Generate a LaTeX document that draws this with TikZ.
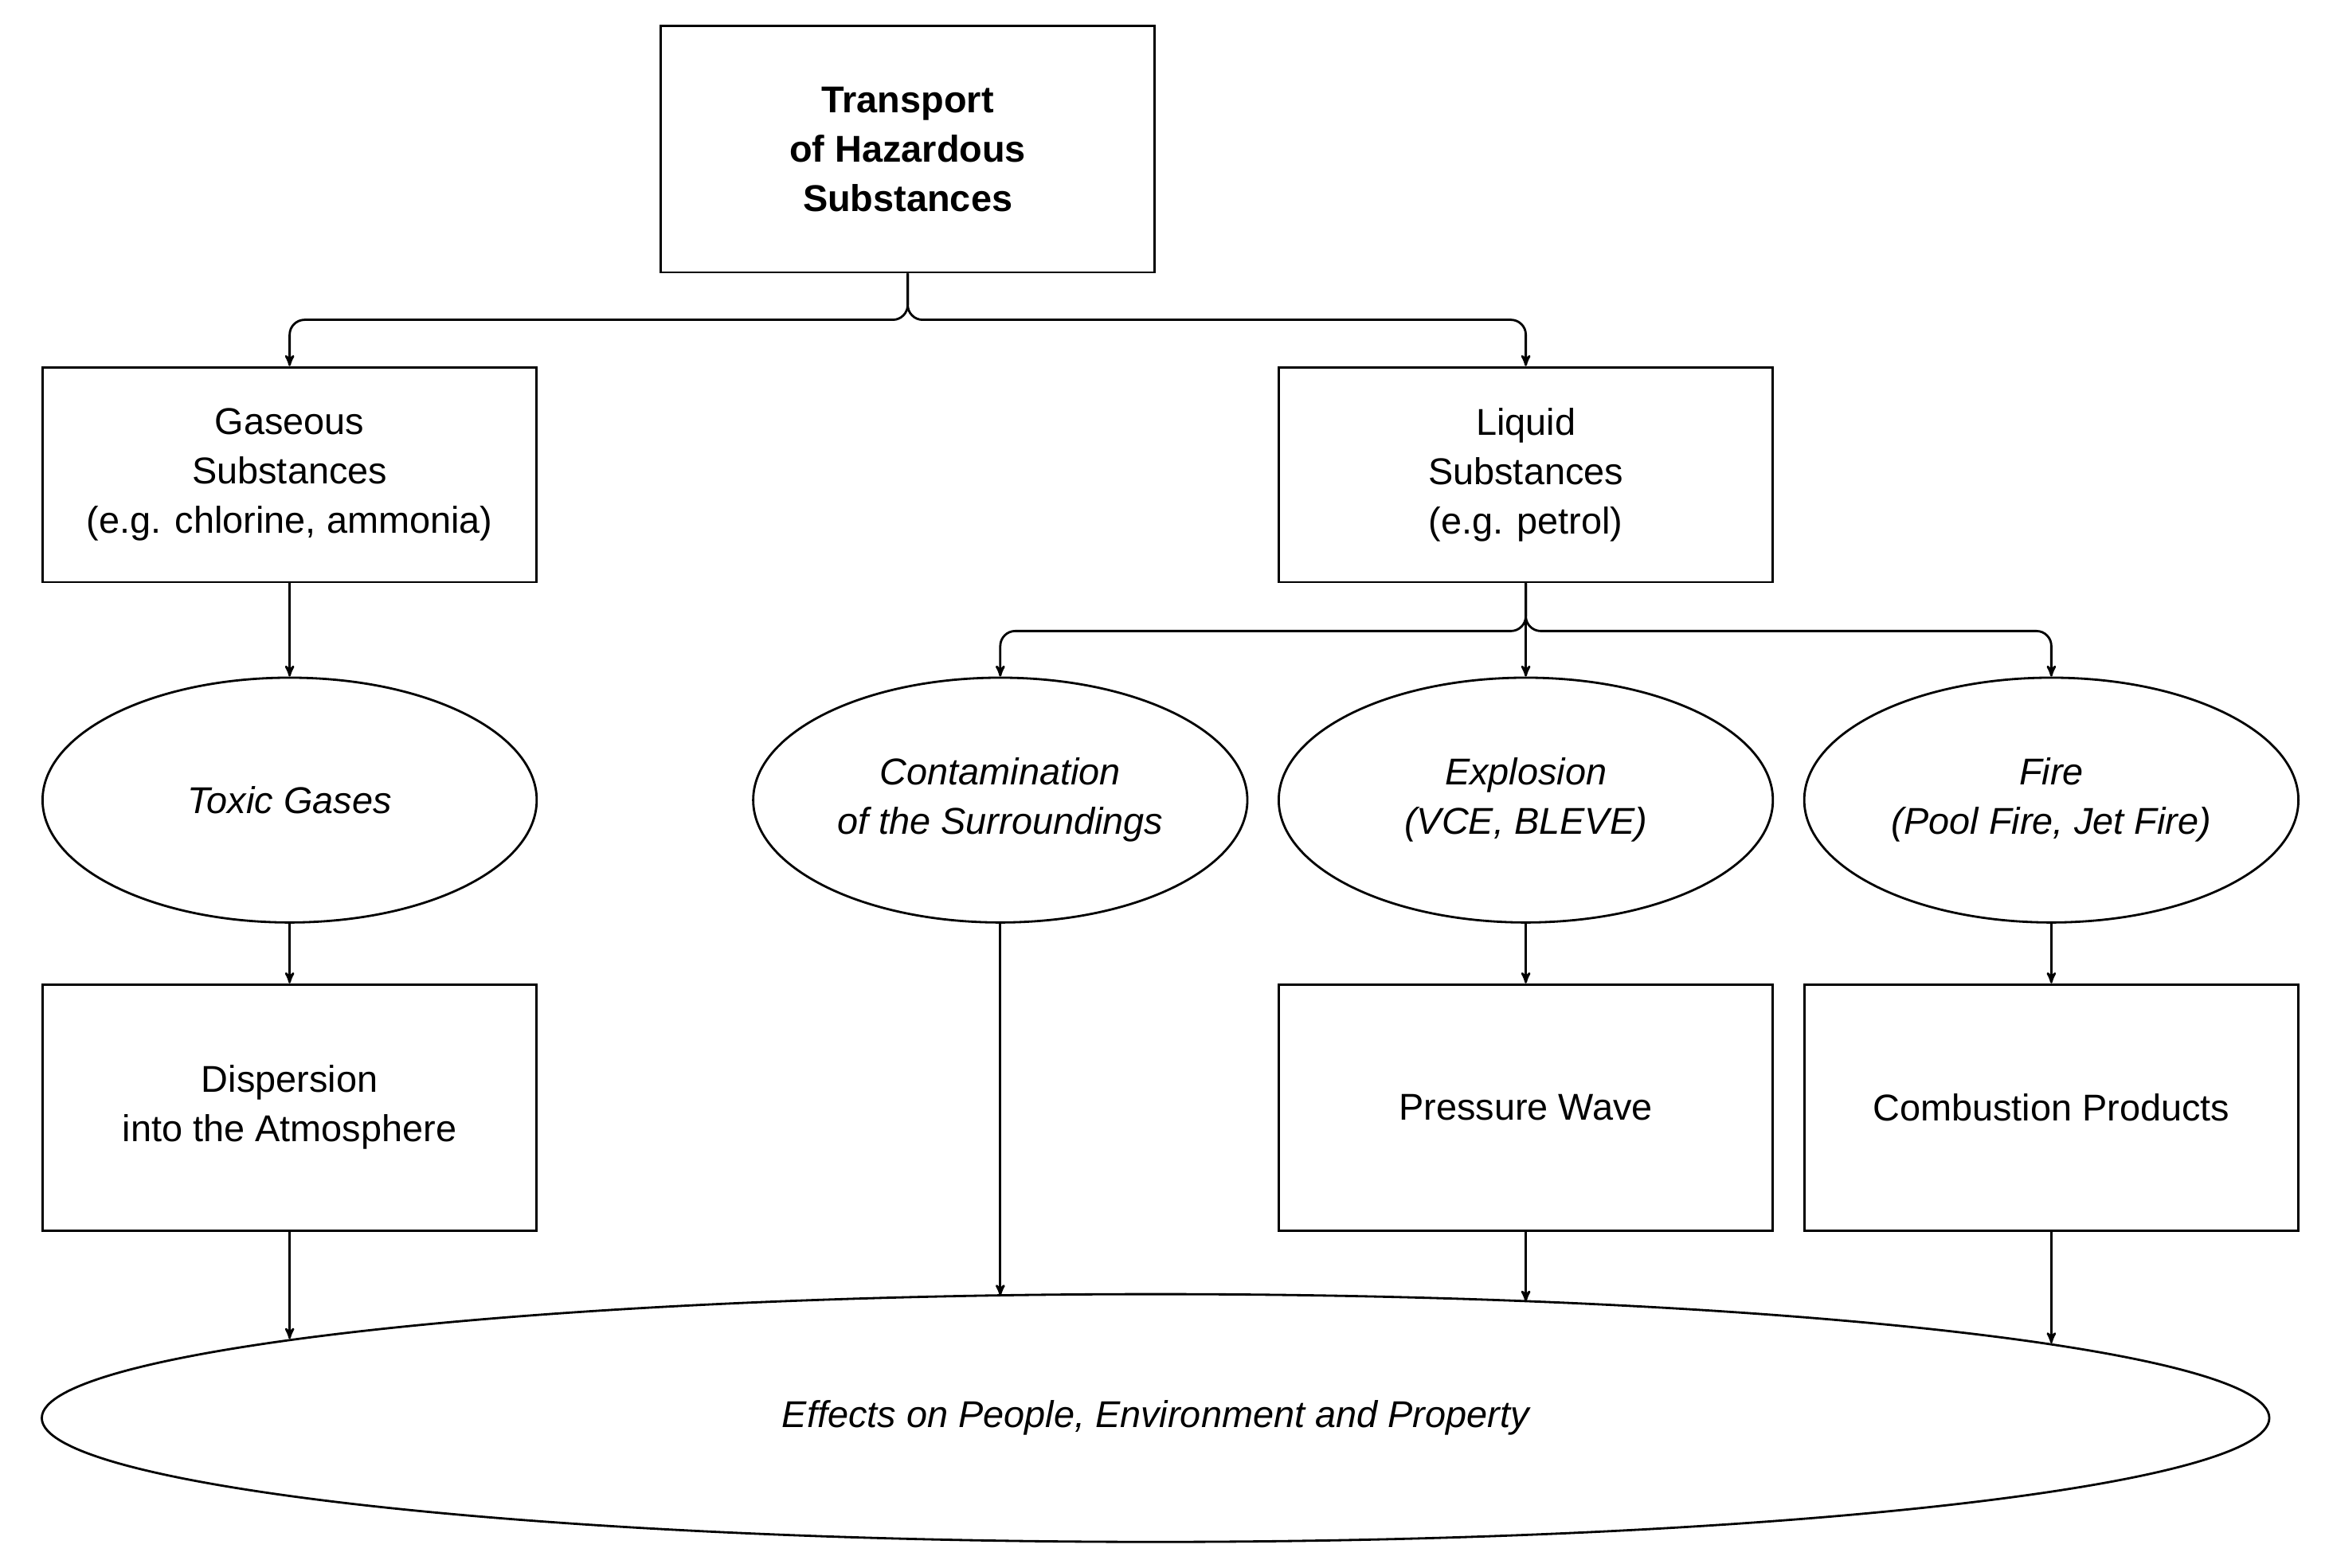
\documentclass[tikz,border=0pt]{standalone}
\usepackage{fontspec}
\setmainfont{Liberation Sans}
\usetikzlibrary{arrows,shapes.geometric}
\tikzset{
  blk/.style = {draw=black, line width=1.5pt, align=center, inner sep=0pt,
    font=\fontsize{25}{33}\selectfont},
  box/.style = {blk, rectangle, minimum width=331pt, minimum height=144pt},
  oval/.style = {blk, ellipse, minimum width=331pt, minimum height=164pt,
    font=\fontsize{25}{33}\selectfont\itshape},
  flow/.style = {->, >=stealth', line width=1.5pt, rounded corners=10pt}
}
\begin{document}
\begin{tikzpicture}[x=1pt,y=-1pt]
\useasboundingbox (0,0) rectangle (1560,1050);
\node [box, minimum height=165pt, font=\fontsize{25}{33}\selectfont\bfseries] (top) at (608,100) {Transport\\of Hazardous\\Substances};
\node [box] (gas) at (194,318) {Gaseous\\Substances\\(e.g. chlorine, ammonia)};
\node [box] (liq) at (1022,318) {Liquid\\Substances\\(e.g. petrol)};
\node [oval] (toxic) at (194,536) {Toxic Gases};
\node [oval] (cont) at (670,536) {Contamination\\of the Surroundings};
\node [oval] (expl) at (1022,536) {Explosion\\(VCE, BLEVE)};
\node [oval] (fire) at (1374,536) {Fire\\(Pool Fire, Jet Fire)};
\node [box, minimum height=165pt] (disp) at (194,742) {Dispersion\\into the Atmosphere};
\node [box, minimum height=165pt] (press) at (1022,742) {Pressure Wave};
\node [box, minimum height=165pt] (comb) at (1374,742) {Combustion Products};
\node [oval, minimum width=1492pt, minimum height=166pt] (eff) at (774,950) {Effects on People, Environment and Property};
% landing points on the big ellipse
\coordinate (e1) at (194,897);
\coordinate (e2) at (670,868);
\coordinate (e3) at (1022,872);
\coordinate (e4) at (1374,900);
% connectors
\draw [flow] (top.south) -- ++(0,31) -| (gas.north);
\draw [flow] (top.south) -- ++(0,31) -| (liq.north);
\draw [flow] (gas) -- (toxic);
\draw [flow] (toxic) -- (disp);
\draw [flow] (liq.south) -- ++(0,32) -| (cont.north);
\draw [flow] (liq.south) -- (expl.north);
\draw [flow] (liq.south) -- ++(0,32) -| (fire.north);
\draw [flow] (expl) -- (press);
\draw [flow] (fire) -- (comb);
\draw [flow] (disp.south) -- (e1);
\draw [flow] (cont.south) -- (e2);
\draw [flow] (press.south) -- (e3);
\draw [flow] (comb.south) -- (e4);
\end{tikzpicture}
\end{document}
